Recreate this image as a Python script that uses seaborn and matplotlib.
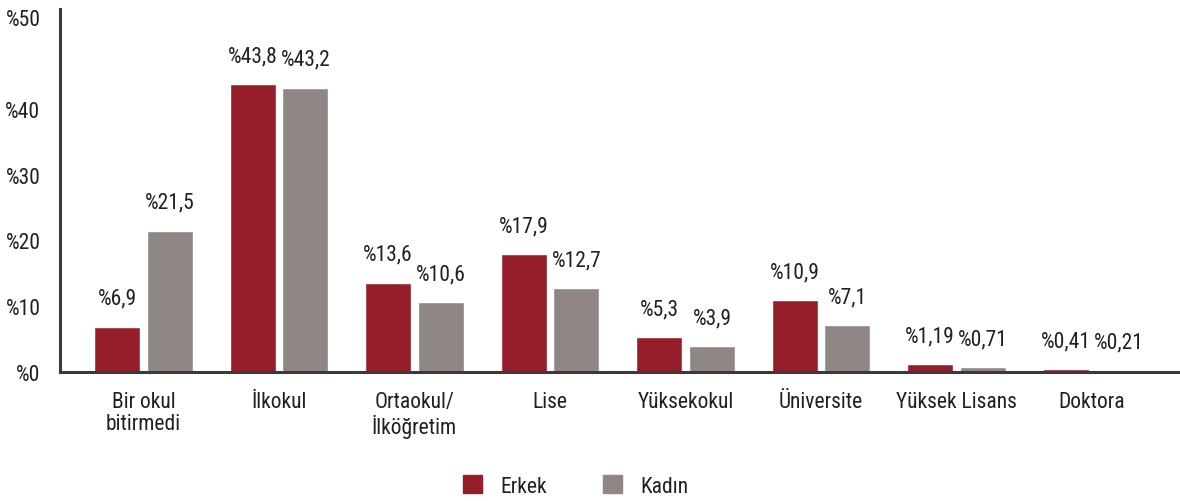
import matplotlib
matplotlib.use("Agg")
import matplotlib.pyplot as plt
from matplotlib import font_manager as fm
import seaborn as sns
import pandas as pd
from matplotlib.patches import Patch

categories = ["Bir okul\nbitirmedi", "İlkokul", "Ortaokul/\nİlköğretim",
              "Lise", "Yüksekokul", "Üniversite", "Yüksek Lisans", "Doktora"]
erkek = [6.9, 43.8, 13.6, 17.9, 5.3, 10.9, 1.19, 0.41]
kadin = [21.5, 43.2, 10.6, 12.7, 3.9, 7.1, 0.71, 0.21]
erkek_labels = ["%6,9", "%43,8", "%13,6", "%17,9", "%5,3", "%10,9", "%1,19", "%0,41"]
kadin_labels = ["%21,5", "%43,2", "%10,6", "%12,7", "%3,9", "%7,1", "%0,71", "%0,21"]
series = ["Erkek", "Kadın"]
ytick_vals = [0, 10, 20, 30, 40, 54]
ytick_labels = ["%0", "%10", "%20", "%30", "%40", "%50"]

colors = {"Erkek": "#961E2B", "Kadın": "#8E8786"}

sns.set_theme(style="white")

# pick a condensed face if one is installed
family = "DejaVu Sans"
stretch = "normal"
names = {f.name for f in fm.fontManager.ttflist}
for cand in ["Liberation Sans Narrow", "Roboto Condensed", "Open Sans Condensed",
             "Noto Sans Condensed", "Arial Narrow"]:
    if cand in names:
        family = cand
        break
else:
    for f in fm.fontManager.ttflist:
        if f.name == "DejaVu Sans" and str(f.stretch) in ("condensed", "semi-condensed", "75", "87"):
            stretch = "condensed"
            break
condensed = (family != "DejaVu Sans") or stretch == "condensed"
plt.rcParams["font.family"] = [family, "DejaVu Sans"]
plt.rcParams["font.stretch"] = stretch
fs = 15.5 if condensed else 12.5
tc = "#231f20"

df = pd.DataFrame({
    "cat": categories * 2,
    "val": erkek + kadin,
    "ser": [series[0]] * len(categories) + [series[1]] * len(categories),
})

fig = plt.figure(figsize=(11.8, 5.02), dpi=100)
ax = fig.add_axes([0.0508, 0.257, 0.9492, 0.723])
sns.barplot(data=df, x="cat", y="val", hue="ser", palette=colors, width=0.78, gap=0.13,
            ax=ax, legend=False, saturation=1)

for cont, labs in zip(ax.containers, [erkek_labels, kadin_labels]):
    ax.bar_label(cont, labels=labs, padding=13, fontsize=fs, color=tc)

ax.set_xlim(-0.617, 7.65)
ax.set_ylim(0, 55.2)
ax.set_yticks(ytick_vals)
ax.set_yticklabels(ytick_labels, fontsize=fs, color=tc)
ax.tick_params(axis="y", length=0, pad=14)
ax.tick_params(axis="x", length=0, pad=14, labelsize=fs, labelcolor=tc)
for lab in ax.get_xticklabels():
    lab.set_linespacing(1.05)
ax.set_xlabel("")
ax.set_ylabel("")
for s in ["top", "right"]:
    ax.spines[s].set_visible(False)
for s in ["left", "bottom"]:
    ax.spines[s].set_color("#3a3a3a")
    ax.spines[s].set_linewidth(2.2)

handles = [Patch(color=colors[s], label=s) for s in series]
fig.legend(handles=handles, loc="center", bbox_to_anchor=(0.488, 0.03), ncol=2, frameon=False,
           fontsize=fs, handlelength=0.88, handleheight=0.88, columnspacing=2.6,
           handletextpad=0.85, labelcolor=tc)

fig.savefig("out.png", dpi=100)
